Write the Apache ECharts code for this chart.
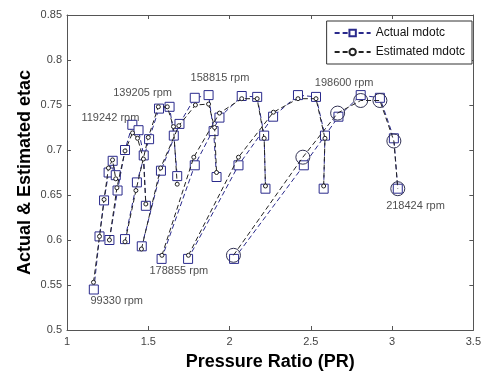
<!DOCTYPE html>
<html><head><meta charset="utf-8">
<script src="https://cdn.jsdelivr.net/npm/echarts@6/dist/echarts.min.js"></script>
<style>html,body{margin:0;padding:0;background:#fff}#c{width:484px;height:376px}</style>
</head><body><div id="c"></div>
<script>
// Speed lines (rpm)
const speeds = ['99330','119242','139205','158815','178855','198600','218424'];
// Actual mdotc: [PR, etac]
const act99330  = [[1.165,0.545],[1.200,0.604],[1.228,0.644],[1.256,0.675],[1.281,0.688],[1.300,0.672]];
const act119242 = [[1.261,0.600],[1.311,0.655],[1.357,0.700],[1.402,0.728],[1.440,0.722],[1.472,0.694],[1.485,0.638]];
const act139205 = [[1.357,0.601],[1.430,0.664],[1.505,0.712],[1.566,0.746],[1.631,0.748],[1.657,0.716],[1.678,0.671]];
const act158815 = [[1.460,0.593],[1.578,0.677],[1.692,0.729],[1.786,0.758],[1.871,0.761],[1.902,0.721],[1.920,0.670]];
const act178855 = [[1.582,0.579],[1.786,0.683],[1.938,0.736],[2.075,0.760],[2.170,0.759],[2.213,0.716],[2.221,0.657]];
const act198600 = [[1.745,0.579],[2.055,0.683],[2.268,0.737],[2.421,0.761],[2.532,0.759],[2.587,0.716],[2.579,0.657]];
const act218424 = [[2.028,0.579],[2.457,0.683],[2.670,0.737],[2.807,0.761],[2.925,0.758],[3.011,0.713],[3.035,0.657]];
// Estimated mdotc: [PR, etac]
const est99330  = [[1.163,0.553],[1.200,0.604],[1.228,0.645],[1.255,0.680],[1.280,0.689],[1.300,0.668]];
const est119242 = [[1.261,0.600],[1.307,0.658],[1.357,0.699],[1.403,0.719],[1.434,0.713],[1.470,0.690],[1.485,0.640]];
const est139205 = [[1.357,0.598],[1.424,0.655],[1.500,0.714],[1.562,0.748],[1.617,0.748],[1.655,0.726],[1.678,0.662]];
const est158815 = [[1.458,0.590],[1.576,0.680],[1.688,0.727],[1.790,0.750],[1.871,0.751],[1.908,0.725],[1.920,0.675]];
const est178855 = [[1.584,0.583],[1.780,0.692],[1.938,0.741],[2.075,0.757],[2.170,0.757],[2.213,0.713],[2.221,0.660]];
const est198600 = [[1.747,0.583],[2.055,0.692],[2.270,0.742],[2.421,0.757],[2.532,0.757],[2.587,0.713],[2.579,0.660]];
const est218424 = [[2.024,0.583],[2.451,0.692],[2.665,0.741],[2.807,0.755],[2.925,0.755],[3.011,0.710],[3.035,0.657]];
// Speed label anchors: [PR, etac, text]
const speedLabels = [
  [1.306,0.532,'99330 rpm'],
  [1.267,0.736,'119242 rpm'],
  [1.465,0.763,'139205 rpm'],
  [1.941,0.780,'158815 rpm'],
  [1.688,0.566,'178855 rpm'],
  [2.705,0.774,'198600 rpm'],
  [3.144,0.638,'218424 rpm']
];
const xTicks = [1,1.5,2,2.5,3,3.5];
const yTicks = [0.5,0.55,0.6,0.65,0.7,0.75,0.8,0.85];

const actualSets = [act99330,act119242,act139205,act158815,act178855,act198600,act218424];
const estSets = [est99330,est119242,est139205,est158815,est178855,est198600,est218424];

const FONT = '"Liberation Sans", Arial, sans-serif';
const ACT = '#2a2a8c';
const series = [];
actualSets.forEach((d) => {
  series.push({
    name: 'Actual mdotc', type: 'line', data: d, symbol: 'rect', symbolSize: 9,
    showAllSymbol: true,
    itemStyle: {color: '#fff', borderColor: ACT, borderWidth: 1},
    lineStyle: {color: ACT, width: 1, type: [5,3]},
    z: 3, animation: false
  });
});
estSets.forEach((d, i) => {
  const big = i === estSets.length - 1;
  series.push({
    name: 'Estimated mdotc', type: 'line', data: d, symbol: 'circle', symbolSize: big ? 14 : 4,
    showAllSymbol: true,
    itemStyle: {color: big ? 'rgba(255,255,255,0)' : '#fff', borderColor: big ? '#333355' : '#222', borderWidth: 1},
    lineStyle: {color: '#222', width: 1, type: [5,3]},
    z: 4, animation: false
  });
});
series.push({
  type: 'scatter', symbolSize: 0, silent: true, animation: false,
  data: speedLabels.map(l => ({value: [l[0], l[1]], name: l[2]})),
  label: {show: true, position: 'inside', formatter: p => p.name, color: '#222', fontSize: 11, fontFamily: FONT}
});

const axisCommon = {
  axisLine: {show: true, onZero: false, lineStyle: {color: '#555', width: 1}},
  axisTick: {show: true, inside: true, length: 4, lineStyle: {color: '#555'}},
  splitLine: {show: false}
};
const chart = echarts.init(document.getElementById('c'), null, {renderer: 'canvas'});
chart.setOption({
  backgroundColor: '#fff',
  animation: false,
  grid: {left: 67, right: 7, top: 15, bottom: 40, containLabel: false},
  legend: {
    data: ['Actual mdotc', 'Estimated mdotc'], orient: 'vertical',
    right: 12, top: 21, itemWidth: 36, itemHeight: 8, itemGap: 7,
    padding: [6, 7, 6, 7],
    backgroundColor: '#fff', borderColor: '#333', borderWidth: 1, borderRadius: 0,
    textStyle: {fontSize: 12, fontFamily: FONT, color: '#111'}
  },
  xAxis: [
    Object.assign({type: 'value', min: 1, max: 3.5, interval: 0.5, position: 'bottom',
      name: 'Pressure Ratio (PR)', nameLocation: 'middle', nameGap: 23, nameMoveOverlap: false,
      nameTextStyle: {fontSize: 18, fontWeight: 'bold', fontFamily: FONT, color: '#000'},
      axisLabel: {fontSize: 11, fontFamily: FONT, color: '#444', margin: 6,
        formatter: v => xTicks.includes(v) ? String(v) : ''}}, axisCommon),
    Object.assign({type: 'value', min: 1, max: 3.5, interval: 0.5, position: 'top',
      axisLabel: {show: false}}, axisCommon)
  ],
  yAxis: [
    Object.assign({type: 'value', min: 0.5, max: 0.85, interval: 0.05, position: 'left',
      name: 'Actual & Estimated etac', nameLocation: 'middle', nameGap: 33, nameMoveOverlap: false,
      nameTextStyle: {fontSize: 18, fontWeight: 'bold', fontFamily: FONT, color: '#000'},
      axisLabel: {fontSize: 11, fontFamily: FONT, color: '#444', margin: 5,
        formatter: v => { const r = Math.round(v*100)/100; return yTicks.includes(r) ? String(r) : ''; }}}, axisCommon),
    Object.assign({type: 'value', min: 0.5, max: 0.85, interval: 0.05, position: 'right',
      axisLabel: {show: false}}, axisCommon)
  ],
  series: series
});
</script></body></html>
